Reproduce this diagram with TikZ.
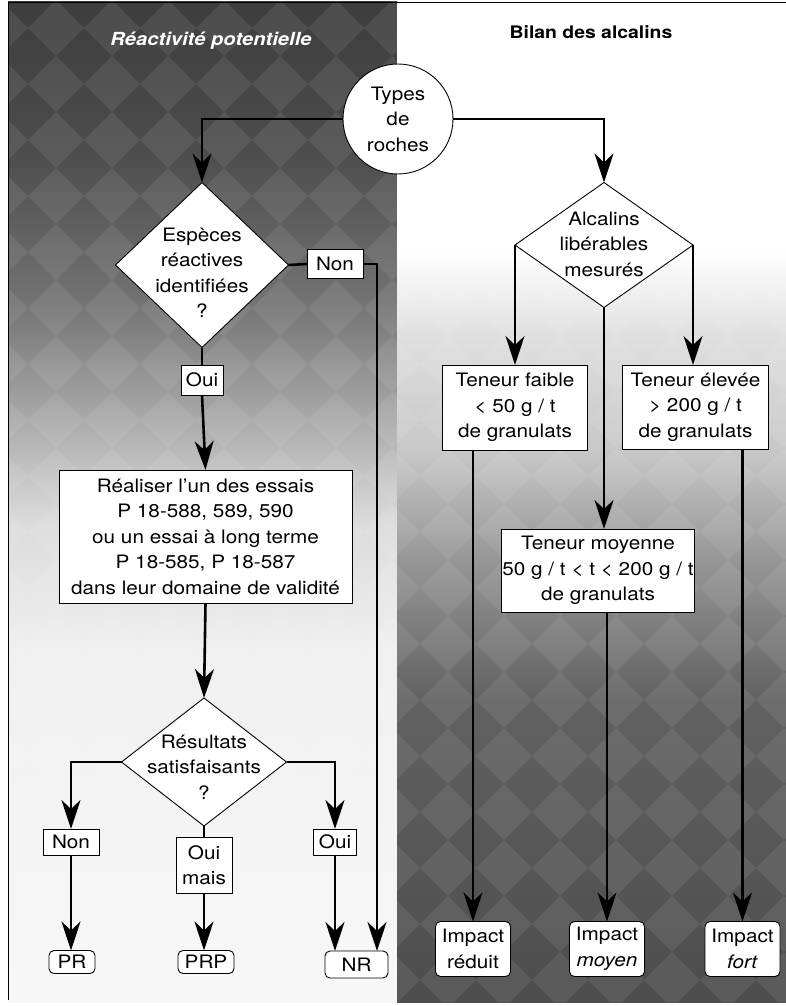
\documentclass[tikz,border=0pt]{standalone}
\usepackage{fontspec}
\setmainfont{TeX Gyre Heros}[FakeStretch=1.12]
\usetikzlibrary{shapes.geometric,arrows.meta,calc}
\pgfdeclareverticalshading{leftpanel}{100bp}{color(0bp)=(black!3); color(25bp)=(black!3); color(42.5bp)=(black!6); color(49bp)=(black!14); color(54bp)=(black!33); color(60bp)=(black!55); color(67.5bp)=(black!70); color(75bp)=(black!76); color(100bp)=(black!76)}
\pgfdeclareverticalshading{rightpanel}{100bp}{color(0bp)=(black!70); color(25bp)=(black!70); color(40bp)=(black!62); color(47.5bp)=(black!40); color(52.5bp)=(black!22); color(58.5bp)=(black!12); color(62.5bp)=(white); color(75bp)=(white); color(100bp)=(white)}
\begin{document}
\begin{tikzpicture}[x=1pt,y=-1pt,
  txt/.style={font=\fontsize{18.5}{25.5}\selectfont, align=center},
  box/.style={txt, draw, fill=white, line width=0.9pt, inner sep=0pt, outer sep=0pt},
  rbox/.style={box, rounded corners=5pt},
  diam/.style={draw, fill=white, line width=0.9pt, shape=diamond, inner sep=0pt, outer sep=0pt},
  ln/.style={line width=2.6pt},
  arr/.style={ln, -{Stealth[length=29pt,width=19pt,inset=9pt]}},
  halftone/.style={fill=white, fill opacity=0.08}]
\useasboundingbox (0,0) rectangle (786,1006);
% panels
\shade[shading=leftpanel] (8,2) rectangle (397,1002);
\shade[shading=rightpanel] (397,2) rectangle (786,1002);
\begin{scope}
  \clip (8,2) rectangle (786,1002);
  \foreach \i in {0,...,15} {
    \foreach \j in {0,...,19} {
      \fill[halftone] ({\i*56},{\j*56}) -- ++(28,28) -- ++(-28,28) -- ++(-28,-28) -- cycle;
    }
  }
\end{scope}
\draw[line width=0.8pt] (8,1000) -- (8,2) -- (786,2);
% titles
\node[font=\fontsize{18}{20}\selectfont\bfseries\itshape, text=white] (tl) at (211,41) {Réactivité potentielle};
\node[font=\fontsize{17.3}{20}\selectfont\bfseries] (tr) at (591,32) {Bilan des alcalins};
% top
\node[box, circle, minimum size=110pt] (circ) at (398,119) {Types\\de\\roches};
% left branch
\node[diam, minimum width=173pt, minimum height=165pt] (d1) at (202,265) {};
\node[txt] (d1t) at (202,273) {Espèces\\réactives\\identifiées\\?};
\node[box, minimum width=56pt, minimum height=29pt] (non1) at (335,264) {Non};
\node[box, minimum width=42pt, minimum height=30pt] (oui1) at (202,380) {Oui};
\node[box, minimum width=293pt, minimum height=133pt] (real) at (205.5,536.5) {Réaliser l'un des essais\\P 18-588, 589, 590\\ou un essai à long terme\\P 18-585, P 18-587\\dans leur domaine de validité};
\node[diam, minimum width=165pt, minimum height=128pt] (d3) at (204,762) {};
\node[txt] (d3t) at (204,767) {Résultats\\satisfaisants\\?};
\node[box, minimum width=56pt, minimum height=26pt] (non2) at (71,842) {Non};
\node[box, minimum width=56pt, minimum height=56pt] (ouim) at (204,865) {Oui\\mais};
\node[box, minimum width=43pt, minimum height=26pt] (oui2) at (335,842) {Oui};
\node[rbox, minimum width=46pt, minimum height=23pt] (pr) at (72,962) {PR};
\node[rbox, minimum width=56pt, minimum height=23pt] (prp) at (206,962) {PRP};
\node[rbox, minimum width=63pt, minimum height=27pt] (nr) at (356.5,964.5) {NR};
% right branch
\node[diam, minimum width=178pt, minimum height=125pt] (d2) at (604,245) {};
\node[txt] (d2t) at (604,244) {Alcalins\\libérables\\mesurés};
\node[box, minimum width=145pt, minimum height=85pt] (tf) at (515,407.5) {Teneur faible\\< 50 g / t\\de granulats};
\node[box, minimum width=146pt, minimum height=84pt] (te) at (695.5,407) {Teneur élevée\\> 200 g / t\\de granulats};
\node[box, minimum width=193pt, minimum height=83pt] (tm) at (598,570.5) {Teneur moyenne\\50 g / t < t < 200 g / t\\de granulats};
\node[rbox, minimum width=75pt, minimum height=55pt] (ir) at (473,949) {Impact\\réduit};
\node[rbox, minimum width=75pt, minimum height=55pt] (im) at (607,949) {Impact\\\textit{moyen}};
\node[rbox, minimum width=75pt, minimum height=55pt] (ifo) at (742.5,949) {Impact\\\textit{fort}};
% connectors left
\draw[arr] (circ.west) -| (d1.north);
\draw[ln] (d1.east) -- (non1.west);
\draw[arr] (non1.east) -| ([xshift=-11pt]nr.north east);
\draw[ln] (d1.south) -- (oui1.north);
\draw[arr] (oui1.south) -- (real.north);
\draw[arr] (real.south) -- (d3.north);
\draw[arr] (d3.west) -| (non2.north);
\draw[arr] (non2.south) -- (non2.south |- pr.north);
\draw[ln] (d3.south) -- (ouim.north);
\draw[arr] (ouim.south) -- (ouim.south |- prp.north);
\draw[arr] (d3.east) -| (oui2.north);
\draw[arr] (oui2.south) -- (oui2.south |- nr.north);
% connectors right
\draw[arr] (circ.east) -| (d2.north);
\draw[arr] (d2.west) -- (d2.west |- tf.north);
\draw[arr] (d2.east) -- (d2.east |- te.north);
\draw[arr] (d2.south) -- (d2.south |- tm.north);
\draw[arr] (ir.north |- tf.south) -- (ir.north);
\draw[arr] (im.north |- tm.south) -- (im.north);
\draw[arr] (ifo.north |- te.south) -- (ifo.north);
\end{tikzpicture}
\end{document}
